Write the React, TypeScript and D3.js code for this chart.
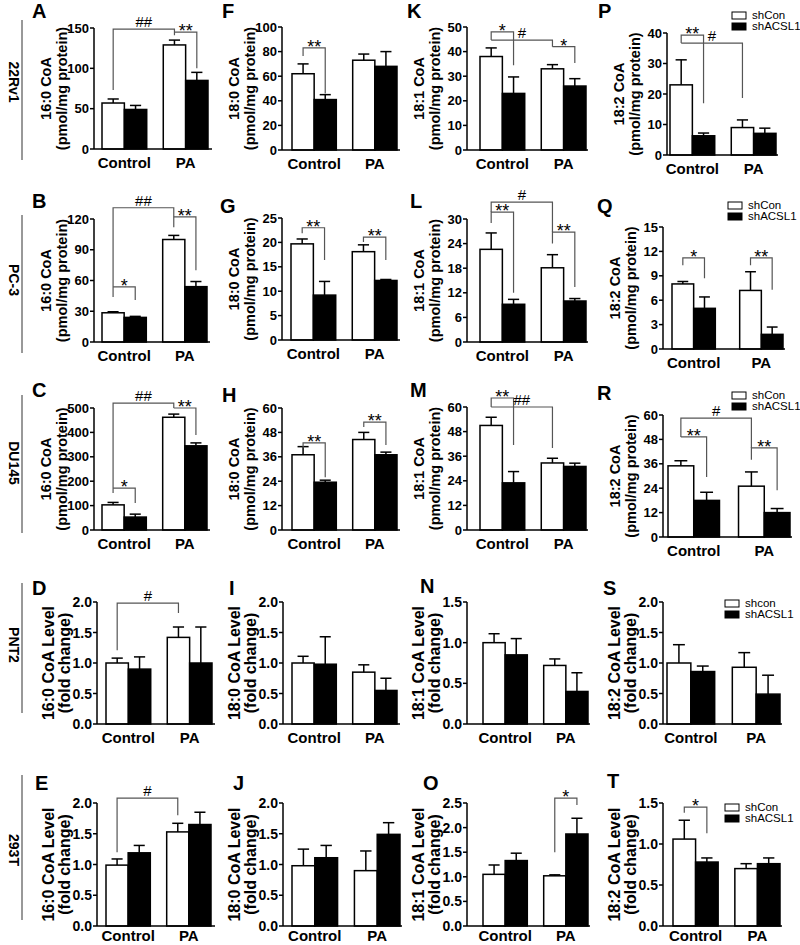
import * as d3 from "d3";

const groups = ["Control", "PA"];
const seriesNames = ["shCon", "shACSL1"];
const lipids = ["16:0 CoA", "18:0 CoA", "18:1 CoA", "18:2 CoA"];
const cellLines = ["22Rv1", "PC-3", "DU145", "PNT2", "293T"];

// sig rows: [bar a, bar b, bracket top, leg a end, leg b end, label]
// bars 0..3 = Control/shCon, Control/shACSL1, PA/shCon, PA/shACSL1
type Sig = [number, number, number, number, number, string];
interface PanelData {
  mean: number[];
  sem: number[];
  ticks: number[];
  sig: Sig[];
}

const A: PanelData = { mean: [57, 49, 129, 85], sem: [5, 5, 6, 10], ticks: [0, 50, 100, 150], sig: [[0, 2, 148.7, 73, 141, "##"], [2, 3, 145, 145, 100, "**"]] };
const F: PanelData = { mean: [62, 41, 73, 68], sem: [8, 4, 5, 12], ticks: [0, 20, 40, 60, 80, 100], sig: [[0, 1, 83, 76.4, 46, "**"]] };
const K: PanelData = { mean: [38, 23, 33, 26], sem: [3.5, 6.7, 1.7, 3], ticks: [0, 10, 20, 30, 40, 50], sig: [[0, 1, 48, 44.7, 34.5, "*"], [0, 2, 44.7, 44.7, 42, "#"], [2, 3, 42, 42, 35.4, "*"]] };
const P: PanelData = { mean: [23, 6.3, 9, 7.1], sem: [8.2, 0.9, 2.5, 1.7], ticks: [0, 10, 20, 30, 40], sig: [[0, 1, 39.3, 36.7, 17, "**"], [0, 2, 36.7, 36.7, 18.7, "#"]] };

const B: PanelData = { mean: [28.5, 24, 100, 54], sem: [1, 1, 4, 5], ticks: [0, 30, 60, 90, 120], sig: [[0, 2, 131, 44, 112, "##"], [2, 3, 122, 122, 70, "**"], [0, 1, 53.7, 53.7, 41, "*"]] };
const G: PanelData = { mean: [19.7, 9.2, 18.1, 12.2], sem: [1, 2.8, 1.4, 0.2], ticks: [0, 5, 10, 15, 20, 25], sig: [[0, 1, 23, 21.9, 16.4, "**"], [2, 3, 21.1, 20.1, 16.4, "**"]] };
const L: PanelData = { mean: [22.6, 9.2, 18.1, 10], sem: [4, 1.2, 3.2, 0.6], ticks: [0, 6, 12, 18, 24, 30], sig: [[0, 2, 34.1, 31.7, 26.8, "#"], [0, 1, 31.7, 29, 12, "**"], [2, 3, 26.8, 24, 13.4, "**"]] };
const Q: PanelData = { mean: [8, 5, 7.2, 1.8], sem: [0.3, 1.4, 2.3, 0.9], ticks: [0, 3, 6, 9, 12, 15], sig: [[0, 1, 11.2, 10.3, 8.7, "*"], [2, 3, 11.2, 10.3, 7.3, "**"]] };

const C: PanelData = { mean: [103, 53, 462, 345], sem: [10, 12, 13, 12], ticks: [0, 100, 200, 300, 400, 500], sig: [[0, 2, 520, 152, 500, "##"], [2, 3, 500, 500, 389, "**"], [0, 1, 172, 172, 111, "*"]] };
const H: PanelData = { mean: [37, 23.5, 44.5, 37], sem: [4, 1, 3.5, 1.3], ticks: [0, 12, 24, 36, 48, 60], sig: [[0, 1, 42.8, 40.3, 26, "**"], [2, 3, 53.1, 50.7, 41.8, "**"]] };
const M: PanelData = { mean: [51, 23, 32.7, 31], sem: [4, 5.5, 2.3, 1.6], ticks: [0, 12, 24, 36, 48, 60], sig: [[0, 1, 64.4, 60, 41.5, "**"], [0, 2, 60, 60, 40, "##"]] };
const R: PanelData = { mean: [35, 18, 25, 12], sem: [2.5, 4, 7, 2], ticks: [0, 12, 24, 36, 48, 60], sig: [[0, 2, 58.5, 49.2, 43.8, "#"], [0, 1, 49.2, 49.2, 29.5, "**"], [2, 3, 43.8, 38, 23, "**"]] };

const D: PanelData = { mean: [1.0, 0.9, 1.42, 1.0], sem: [0.08, 0.2, 0.17, 0.59], ticks: [0, 0.5, 1, 1.5, 2], sig: [[0, 2, 1.98, 1.21, 1.82, "#"]] };
const I: PanelData = { mean: [1.0, 0.98, 0.85, 0.55], sem: [0.11, 0.45, 0.12, 0.2], ticks: [0, 0.5, 1, 1.5, 2], sig: [] };
const N: PanelData = { mean: [1.0, 0.85, 0.72, 0.4], sem: [0.11, 0.2, 0.08, 0.23], ticks: [0, 0.5, 1, 1.5], sig: [] };
const S: PanelData = { mean: [1.0, 0.86, 0.93, 0.49], sem: [0.3, 0.09, 0.24, 0.31], ticks: [0, 0.5, 1, 1.5, 2], sig: [] };

const E: PanelData = { mean: [0.99, 1.19, 1.53, 1.65], sem: [0.1, 0.12, 0.14, 0.2], ticks: [0, 0.5, 1, 1.5, 2], sig: [[0, 2, 2.08, 1.2, 1.8, "#"]] };
const J: PanelData = { mean: [0.98, 1.11, 0.9, 1.49], sem: [0.27, 0.2, 0.32, 0.19], ticks: [0, 0.5, 1, 1.5, 2], sig: [] };
const O: PanelData = { mean: [1.05, 1.33, 1.02, 1.87], sem: [0.19, 0.15, 0.02, 0.32], ticks: [0, 0.5, 1, 1.5, 2, 2.5], sig: [[2, 3, 2.6, 1.5, 2.46, "*"]] };
const T: PanelData = { mean: [1.06, 0.78, 0.7, 0.76], sem: [0.23, 0.05, 0.06, 0.07], ticks: [0, 0.5, 1, 1.5], sig: [[0, 1, 1.45, 1.38, 1.13, "*"]] };

// panel frames (pixels)
interface Frame { ax: number; x0: number; x1: number; ax1: number; top: number; bottom: number; lx: number; ly: number; pi?: number; lab?: number }
const layout: Record<string, Frame> = {
  A: { ax: 94, x0: 102, x1: 208, ax1: 212, top: 28, bottom: 149, lx: 32, ly: 18 },
  F: { ax: 282, x0: 292, x1: 397, ax1: 400, top: 27, bottom: 150, lx: 222, ly: 18 },
  K: { ax: 467, x0: 480, x1: 586, ax1: 588, top: 27, bottom: 150, lx: 407, ly: 18 },
  P: { ax: 667, x0: 670, x1: 776, ax1: 778, top: 33, bottom: 155, lx: 598, ly: 18 },
  B: { ax: 94, x0: 102, x1: 207, ax1: 210, top: 219, bottom: 342, lx: 32, ly: 208 },
  G: { ax: 282, x0: 291, x1: 397, ax1: 400, top: 218, bottom: 340, lx: 220, ly: 213 },
  L: { ax: 467, x0: 480, x1: 586, ax1: 588, top: 219, bottom: 342, lx: 410, ly: 208 },
  Q: { ax: 663, x0: 672, x1: 783, ax1: 785, top: 227, bottom: 349, lx: 597, ly: 213, pi: 0.36 },
  C: { ax: 94, x0: 102, x1: 207, ax1: 210, top: 408, bottom: 530, lx: 32, ly: 397 },
  H: { ax: 282, x0: 292, x1: 397, ax1: 400, top: 408, bottom: 530, lx: 222, ly: 402 },
  M: { ax: 467, x0: 480, x1: 586, ax1: 588, top: 407, bottom: 530, lx: 410, ly: 397 },
  R: { ax: 663, x0: 668, x1: 790, ax1: 792, top: 415, bottom: 537, lx: 597, ly: 400 },
  D: { ax: 97, x0: 106, x1: 212, ax1: 215, top: 602, bottom: 724, lx: 32, ly: 595 },
  I: { ax: 283, x0: 292, x1: 397, ax1: 400, top: 602, bottom: 724, lx: 229, ly: 595 },
  N: { ax: 467, x0: 483, x1: 588, ax1: 590, top: 602, bottom: 724, lx: 420, ly: 593 },
  S: { ax: 663, x0: 667, x1: 780, ax1: 782, top: 602, bottom: 724, lx: 603, ly: 595 },
  E: { ax: 97, x0: 106, x1: 211, ax1: 215, top: 803, bottom: 926, lx: 35, ly: 790, lab: 15 },
  J: { ax: 283, x0: 292, x1: 400, ax1: 402, top: 803, bottom: 926, lx: 233, ly: 790, lab: 15 },
  O: { ax: 467, x0: 483, x1: 588, ax1: 590, top: 803, bottom: 926, lx: 423, ly: 790, lab: 15 },
  T: { ax: 663, x0: 673, x1: 780, ax1: 782, top: 803, bottom: 926, lx: 607, ly: 788, lab: 15 },
};

const grid: [string, PanelData][][] = [
  [["A", A], ["F", F], ["K", K], ["P", P]],
  [["B", B], ["G", G], ["L", L], ["Q", Q]],
  [["C", C], ["H", H], ["M", M], ["R", R]],
  [["D", D], ["I", I], ["N", N], ["S", S]],
  [["E", E], ["J", J], ["O", O], ["T", T]],
];

const legends = [
  { x: 732, y: 12, labels: ["shCon", "shACSL1"] },
  { x: 728, y: 202, labels: ["shCon", "shACSL1"] },
  { x: 732, y: 392, labels: ["shCon", "shACSL1"] },
  { x: 725, y: 600, labels: ["shcon", "shACSL1"] },
  { x: 725, y: 804, labels: ["shCon", "shACSL1"] },
];

const rowLabels = [
  { cy: 82, y1: 20, y2: 160 },
  { cy: 280, y1: 215, y2: 353 },
  { cy: 463, y1: 395, y2: 533 },
  { cy: 645, y1: 583, y2: 713 },
  { cy: 850, y1: 775, y2: 920 },
];

function Panel({ id, d, col, row }: { id: string; d: PanelData; col: number; row: number }) {
  const f = layout[id];
  const fold = row >= 3;
  const max = d.ticks[d.ticks.length - 1];
  const y = d3.scaleLinear().domain([0, max]).range([f.bottom, f.top]);
  const xg = d3.scaleBand<string>().domain(groups).range([f.x0, f.x1]).paddingInner(f.pi ?? 0.27);
  const xs = d3.scaleBand<string>().domain(seriesNames).range([0, xg.bandwidth()]);
  const bw = xs.bandwidth();
  const bx = (i: number) => (xg(groups[Math.floor(i / 2)]) ?? 0) + (xs(seriesNames[i % 2]) ?? 0);
  const bc = (i: number) => bx(i) + bw / 2;
  const fmt = fold ? d3.format(".1f") : d3.format("d");
  const tickSize = fold ? 14 : 13;
  const titleSize = fold ? 16 : 14.5;
  const cy = (f.top + f.bottom) / 2;
  const cap = bw * 0.5;

  return (
    <g>
      <text x={f.lx} y={f.ly} fontSize={20} fontWeight="bold">
        {id}
      </text>
      {/* y titles */}
      <text transform={`translate(${f.ax - 43},${cy}) rotate(-90)`} textAnchor="middle" fontSize={titleSize} fontWeight="bold">
        {fold ? `${lipids[col]} Level` : lipids[col]}
      </text>
      <text transform={`translate(${f.ax - 27},${cy}) rotate(-90)`} textAnchor="middle" fontSize={titleSize} fontWeight="bold">
        {fold ? "(fold change)" : "(pmol/mg protein)"}
      </text>
      {/* bars */}
      {d.mean.map((m, i) => (
        <rect
          key={`b${i}`}
          x={bx(i)}
          y={y(m)}
          width={bw}
          height={f.bottom - y(m)}
          fill={i % 2 ? "#000" : "#fff"}
          stroke="#000"
          strokeWidth={1.5}
        />
      ))}
      {/* error bars, upward only */}
      {d.mean.map((m, i) => {
        const t = y(m + d.sem[i]);
        return (
          <g key={`e${i}`} stroke="#000" strokeWidth={1.5}>
            <line x1={bc(i)} x2={bc(i)} y1={y(m)} y2={t} />
            <line x1={bc(i) - cap / 2} x2={bc(i) + cap / 2} y1={t} y2={t} />
          </g>
        );
      })}
      {/* axes */}
      <line x1={f.ax} x2={f.ax} y1={f.top} y2={f.bottom} stroke="#000" strokeWidth={1.5} />
      <line x1={f.ax} x2={f.ax1} y1={f.bottom} y2={f.bottom} stroke="#000" strokeWidth={1.5} />
      {d.ticks.map((t) => (
        <g key={`t${t}`}>
          <line x1={f.ax - 4} x2={f.ax} y1={y(t)} y2={y(t)} stroke="#000" strokeWidth={1.5} />
          <text x={f.ax - 5} y={y(t)} dy="0.36em" textAnchor="end" fontSize={tickSize} fontWeight="bold">
            {fmt(t)}
          </text>
        </g>
      ))}
      {groups.map((g) => (
        <text key={g} x={(xg(g) ?? 0) + xg.bandwidth() / 2} y={f.bottom + (f.lab ?? 19)} textAnchor="middle" fontSize={15} fontWeight="bold">
          {g}
        </text>
      ))}
      {/* significance brackets */}
      {d.sig.map(([a, b, top, ea, eb, label], k) => {
        const xa = bc(a);
        const xb = bc(b);
        const yt = y(top);
        const star = label.includes("*");
        return (
          <g key={`s${k}`}>
            <path
              d={`M${xa},${y(ea)}V${yt}H${xb}V${y(eb)}`}
              fill="none"
              stroke="#555"
              strokeWidth={1.2}
            />
            <text
              x={(xa + xb) / 2}
              y={star ? yt + 5 : yt - 2}
              textAnchor="middle"
              fontSize={star ? 18 : 15}
            >
              {label}
            </text>
          </g>
        );
      })}
    </g>
  );
}

export default function App() {
  return (
    <svg
      width={800}
      height={945}
      viewBox="0 0 800 945"
      style={{ position: "absolute", left: 0, top: 0, background: "#fff" }}
      fontFamily="'Liberation Sans', Arial, Helvetica, sans-serif"
    >
      {rowLabels.map((r, i) => (
        <g key={cellLines[i]}>
          <text transform={`translate(9,${r.cy}) rotate(90)`} textAnchor="middle" fontSize={14} fontWeight="bold">
            {cellLines[i]}
          </text>
          <line x1={22} x2={22} y1={r.y1} y2={r.y2} stroke="#333" strokeWidth={1} />
        </g>
      ))}
      {grid.map((rowPanels, row) =>
        rowPanels.map(([id, d], col) => <Panel key={id} id={id} d={d} col={col} row={row} />)
      )}
      {legends.map((lg, i) => (
        <g key={`lg${i}`}>
          <rect x={lg.x} y={lg.y} width={14} height={7} fill="#fff" stroke="#000" strokeWidth={1} />
          <rect x={lg.x} y={lg.y + 11} width={14} height={7} fill="#000" stroke="#000" strokeWidth={1} />
          <text x={lg.x + 20} y={lg.y + 7} fontSize={11.5}>
            {lg.labels[0]}
          </text>
          <text x={lg.x + 20} y={lg.y + 18} fontSize={11.5}>
            {lg.labels[1]}
          </text>
        </g>
      ))}
    </svg>
  );
}
